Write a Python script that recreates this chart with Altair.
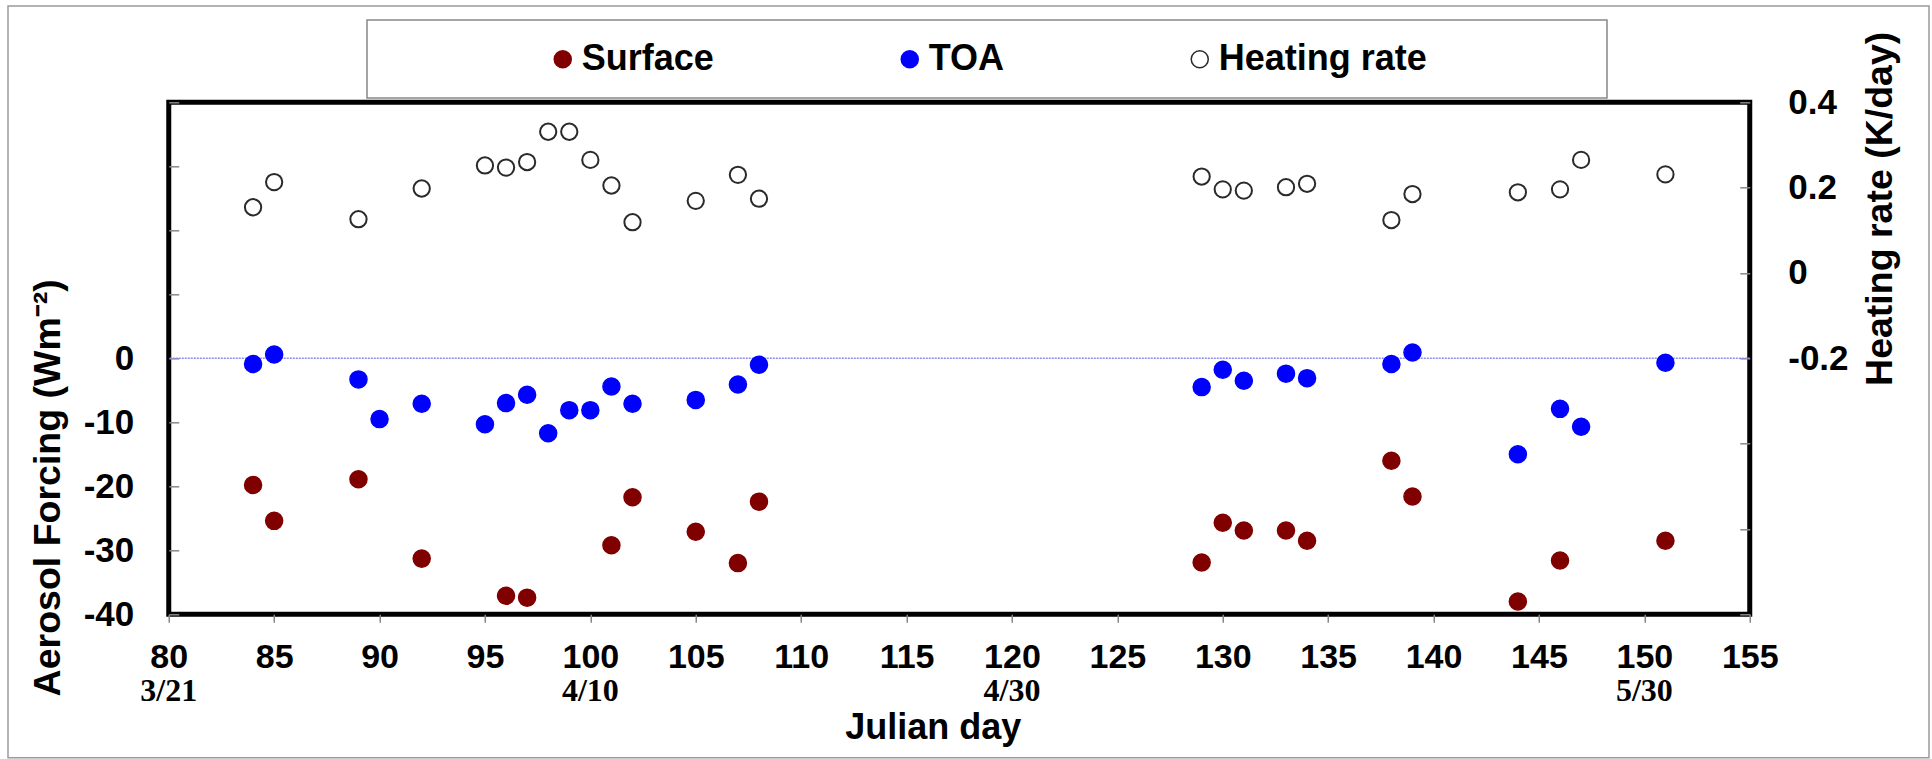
import altair as alt
import pandas as pd

# ---------------- data ----------------
days_surface = [84, 85, 89, 92, 96, 97, 101, 102, 105, 107, 108, 129, 130, 131, 133, 134, 138, 139, 144, 146, 151]
surface = [-19.8, -25.4, -18.9, -31.3, -37.1, -37.4, -29.2, -21.7, -27.1, -32.0, -22.4,
           -31.9, -25.7, -26.9, -26.9, -28.5, -16.0, -21.6, -38.0, -31.6, -28.5]

days_toa = [84, 85, 89, 90, 92, 95, 96, 97, 98, 99, 100, 101, 102, 105, 107, 108,
            129, 130, 131, 133, 134, 138, 139, 144, 146, 147, 151]
toa = [-0.9, 0.6, -3.3, -9.5, -7.1, -10.3, -7.0, -5.7, -11.7, -8.1, -8.1, -4.4, -7.1, -6.5, -4.1, -1.0,
       -4.5, -1.8, -3.5, -2.4, -3.1, -0.9, 0.9, -15.0, -7.9, -10.7, -0.7]

days_hr = [84, 85, 89, 92, 95, 96, 97, 98, 99, 100, 101, 102, 105, 107, 108,
           129, 130, 131, 133, 134, 138, 139, 144, 146, 147, 151]
hr = [0.154, 0.213, 0.126, 0.198, 0.252, 0.247, 0.260, 0.331, 0.331, 0.265, 0.205, 0.119, 0.169, 0.230, 0.174,
      0.226, 0.196, 0.193, 0.201, 0.209, 0.124, 0.185, 0.189, 0.196, 0.265, 0.231]

series_names = ["Surface", "TOA", "Heating rate"]
fill_colors = ["#800000", "#0000FF", "#FFFFFF"]
stroke_colors = ["#800000", "#0000FF", "#2a2a2a"]

x_ticks = list(range(80, 156, 5))
date_days = [80, 100, 120, 150]
date_labels = ["3/21", "4/10", "4/30", "5/30"]

left_label_vals = [0, -10, -20, -30, -40]
left_tick_vals = [-40, -30, -20, -10, 0, 10, 20, 30, 40]
right_label_vals = [0.4, 0.2, 0, -0.2]
right_tick_vals = [-0.8, -0.6, -0.4, -0.2, 0, 0.2, 0.4]

# ---------------- tables ----------------
forcing_df = pd.concat([
    pd.DataFrame({"day": days_surface, "value": surface, "series": "Surface"}),
    pd.DataFrame({"day": days_toa, "value": toa, "series": "TOA"}),
], ignore_index=True)
hr_df = pd.DataFrame({"day": days_hr, "value": hr, "series": "Heating rate"})
dates_df = pd.DataFrame({"day": date_days, "label": date_labels})
zero_df = pd.DataFrame({"zero": [0]})
one_df = pd.DataFrame({"a": [0]})

SANS = "Liberation Sans, Arial, sans-serif"
SERIF = "Liberation Serif, Times New Roman, serif"

W, H = 1581, 512

x_enc = alt.X(
    "day:Q",
    scale=alt.Scale(domain=[80, 155], nice=False, zero=False),
    axis=alt.Axis(
        orient="bottom", values=x_ticks, tickSize=8, tickColor="#888888", tickWidth=1.5,
        domain=False, grid=False, labelPadding=18, labelFont=SANS, labelFontSize=34,
        labelFontWeight="bold", labelColor="black", labelFlush=False,
        title="Julian day", titleFont=SANS, titleFontSize=36, titleFontWeight="bold",
        titleColor="black", titleX=764, titleY=113, titleBaseline="middle", titleAlign="center",
    ),
)

y_forcing_scale = alt.Scale(domain=[-40, 40], nice=False, zero=False)
y_hr_scale = alt.Scale(domain=[-0.8, 0.4], nice=False, zero=False)

legend = alt.Legend(
    orient="none", legendX=376, legendY=-61, direction="horizontal", title=None,
    labelFont=SANS, labelFontSize=36, labelFontWeight="bold", labelColor="black", labelLimit=400,
    symbolSize=290, symbolStrokeWidth=1.5, symbolType="circle", symbolOpacity=1,
    labelOffset=1, columnPadding=177, padding=0,
)
fill_enc = alt.Fill("series:N", scale=alt.Scale(domain=series_names, range=fill_colors), legend=legend)
stroke_enc = alt.Stroke("series:N", scale=alt.Scale(domain=series_names, range=stroke_colors), legend=legend)

# outer frame (decoration)
frame = alt.Chart(one_df).mark_rect(fillOpacity=0, stroke="#9a9a9a", strokeWidth=1.5).encode(
    x=alt.value(-160.75), x2=alt.value(1760.25), y=alt.value(-96.3), y2=alt.value(655.5)
)
# legend box (decoration)
legend_box = alt.Chart(one_df).mark_rect(fillOpacity=0, stroke="#888888", strokeWidth=1.5).encode(
    x=alt.value(198.25), x2=alt.value(1438.25), y=alt.value(-82.3), y2=alt.value(-4.3)
)

zero_rule = alt.Chart(zero_df).mark_rule(color="#8c8cf0", strokeWidth=1.5, strokeDash=[2, 1]).encode(
    y=alt.Y("zero:Q", scale=y_forcing_scale, axis=alt.Axis(
        orient="left", values=left_label_vals, ticks=False, domain=False, grid=False,
        labelPadding=35, labelFont=SANS, labelFontSize=35, labelFontWeight="bold", labelColor="black",
        labelExpr="datum.value < 0 ? '-' + format(-datum.value, 'd') : format(datum.value, 'd')",
        title="Aerosol Forcing (Wm⁻²)", titleFont=SANS, titleFontSize=37.5, titleFontWeight="bold",
        titleColor="black", titleAngle=270, titleX=-120, titleY=385, titleBaseline="middle",
        titleAlign="center",
    )),
)

forcing_pts = alt.Chart(forcing_df).mark_point(
    shape="circle", size=290, strokeWidth=1.5, opacity=1, filled=True
).encode(
    x=x_enc,
    y=alt.Y("value:Q", scale=y_forcing_scale, axis=alt.Axis(
        orient="left", offset=-10, values=left_tick_vals, tickSize=10, tickColor="#888888",
        tickWidth=1.5, labels=False, domain=False, grid=False, title=None,
    )),
    fill=fill_enc,
    stroke=stroke_enc,
)

hr_pts = alt.Chart(hr_df).mark_point(shape="circle", size=265, strokeWidth=2, opacity=1).encode(
    x=x_enc,
    y=alt.Y("value:Q", scale=y_hr_scale, axis=alt.Axis(
        orient="right", values=right_label_vals, ticks=False, domain=False, grid=False,
        labelPadding=38, labelFont=SANS, labelFontSize=35, labelFontWeight="bold", labelColor="black",
        labelAlign="left",
        labelExpr="datum.value == 0 ? '0' : (datum.value < 0 ? '-' + format(-datum.value, '.1f') : format(datum.value, '.1f'))",
        title="Heating rate (K/day)", titleFont=SANS, titleFontSize=37.5, titleFontWeight="bold",
        titleColor="black", titleAngle=270, titleX=131, titleY=106, titleBaseline="middle",
        titleAlign="center",
    )),
    fill=fill_enc,
    stroke=stroke_enc,
)

hr_ticks = alt.Chart(hr_df).mark_point(opacity=0).encode(
    x=x_enc,
    y=alt.Y("value:Q", scale=y_hr_scale, axis=alt.Axis(
        orient="right", offset=-10, values=right_tick_vals, tickSize=10, tickColor="#888888",
        tickWidth=1.5, labels=False, domain=False, grid=False, title=None,
    )),
)

dates = alt.Chart(dates_df).mark_text(
    font=SERIF, fontSize=32, fontWeight="bold", color="black", baseline="middle", align="center"
).encode(
    x=x_enc,
    y=alt.value(589),
    text="label:N",
)

chart = alt.layer(
    frame, legend_box, zero_rule, forcing_pts, hr_pts, hr_ticks, dates
).resolve_scale(y="independent").resolve_axis(y="independent").properties(
    width=W, height=H,
    autosize="none",
    padding={"left": 168.75, "top": 102.3, "right": 182.25, "bottom": 144.7},
    background="white",
).configure_view(stroke="black", strokeWidth=5)

chart.save("out.html", embed_options={"renderer": "svg", "actions": False})
